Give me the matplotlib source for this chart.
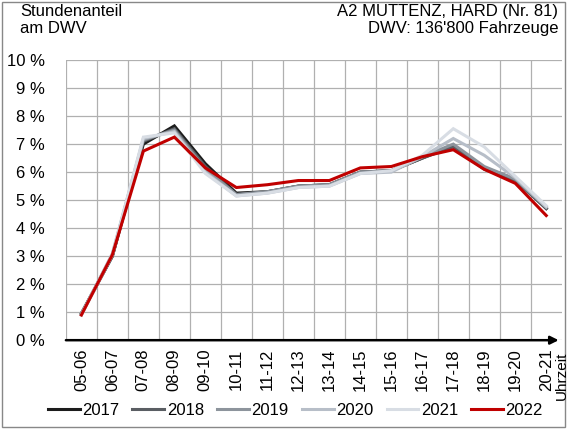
import numpy as np
import matplotlib.pyplot as plt
from matplotlib.patches import Rectangle

plt.rcParams['font.family'] = ['Liberation Sans', 'DejaVu Sans']

hours = ['05-06', '06-07', '07-08', '08-09', '09-10', '10-11', '11-12', '12-13',
         '13-14', '14-15', '15-16', '16-17', '17-18', '18-19', '19-20', '20-21']
years = ['2017', '2018', '2019', '2020', '2021', '2022']

# Stundenanteil am DWV in %
share_2017 = [0.95, 3.0, 7.0, 7.65, 6.3, 5.25, 5.3, 5.5, 5.55, 6.0, 6.05, 6.5, 6.95, 6.15, 5.75, 4.7]
share_2018 = [0.95, 3.0, 7.1, 7.55, 6.2, 5.2, 5.3, 5.5, 5.55, 6.0, 6.05, 6.5, 6.9, 6.1, 5.7, 4.7]
share_2019 = [0.95, 3.05, 7.15, 7.5, 6.1, 5.2, 5.3, 5.5, 5.55, 6.0, 6.05, 6.55, 7.0, 6.2, 5.75, 4.75]
share_2020 = [0.9, 3.1, 7.2, 7.45, 6.0, 5.15, 5.25, 5.45, 5.5, 5.95, 6.0, 6.55, 7.2, 6.6, 5.8, 4.75]
share_2021 = [0.9, 3.05, 7.25, 7.4, 5.95, 5.15, 5.25, 5.45, 5.5, 5.95, 6.05, 6.6, 7.55, 6.9, 5.85, 4.8]
share_2022 = [0.9, 3.05, 6.75, 7.25, 6.15, 5.45, 5.55, 5.7, 5.7, 6.15, 6.2, 6.55, 6.8, 6.1, 5.6, 4.45]

series = [share_2017, share_2018, share_2019, share_2020, share_2021, share_2022]
colors = ['#1c1c1c', '#5a5e63', '#8d949c', '#b7bec8', '#d8dde4', '#c00000']

fig = plt.figure(figsize=(5.68, 4.29), dpi=100)
ax = fig.add_axes([0.116, 0.207, 0.873, 0.653])

x = np.arange(len(hours))
for vals, col, lab in zip(series, colors, years):
    ax.plot(x, vals, color=col, lw=2.2, label=lab, solid_joinstyle='miter')

ax.set_xlim(-0.5, len(hours) - 0.5)
ax.set_ylim(0, 10)
ax.set_yticks(np.arange(0, 11, 1))
ax.set_yticklabels([f'{v} %' for v in range(11)], fontsize=12)
ax.set_xticks(x)
ax.set_xticklabels(hours, rotation=90, fontsize=12)
ax.set_xticks(np.arange(-0.5, len(hours) - 0.5, 1), minor=True)
ax.tick_params(axis='both', which='both', length=0)
ax.tick_params(axis='x', pad=6)
ax.tick_params(axis='y', pad=15)
ax.grid(True, axis='y', which='major', color='#b0b0b0', lw=0.9)
ax.grid(True, axis='x', which='minor', color='#b0b0b0', lw=0.9)
ax.set_axisbelow(True)
for s in ax.spines.values():
    s.set_visible(False)

ax.annotate('', xy=(len(hours) - 0.6, 0), xytext=(-0.5, 0),
            xycoords='data', annotation_clip=False,
            arrowprops=dict(arrowstyle='-|>', color='black', lw=1.8,
                            mutation_scale=12, shrinkA=0, shrinkB=0))

fig.text(20 / 568, 1 - 4 / 429, 'Stundenanteil\nam DWV', ha='left', va='top',
         fontsize=12, linespacing=1.2)
fig.text(558 / 568, 1 - 4 / 429, 'A2 MUTTENZ, HARD (Nr. 81)\nDWV: 136\'800 Fahrzeuge',
         ha='right', va='top', fontsize=12, linespacing=1.2, multialignment='right')
fig.text(562 / 568, 1 - 352 / 429, 'Uhrzeit', rotation=90, ha='center', va='top',
         fontsize=11)

fig.legend(loc='lower center', bbox_to_anchor=(0.52, -0.01), ncol=6, frameon=False,
           fontsize=12, handlelength=1.9, handletextpad=0.15, columnspacing=0.8)

fig.patches.append(Rectangle((0.004, 0.004), 0.99, 0.992, transform=fig.transFigure,
                             fill=False, edgecolor='#888888', lw=1))

fig.savefig('out.png', dpi=100)
